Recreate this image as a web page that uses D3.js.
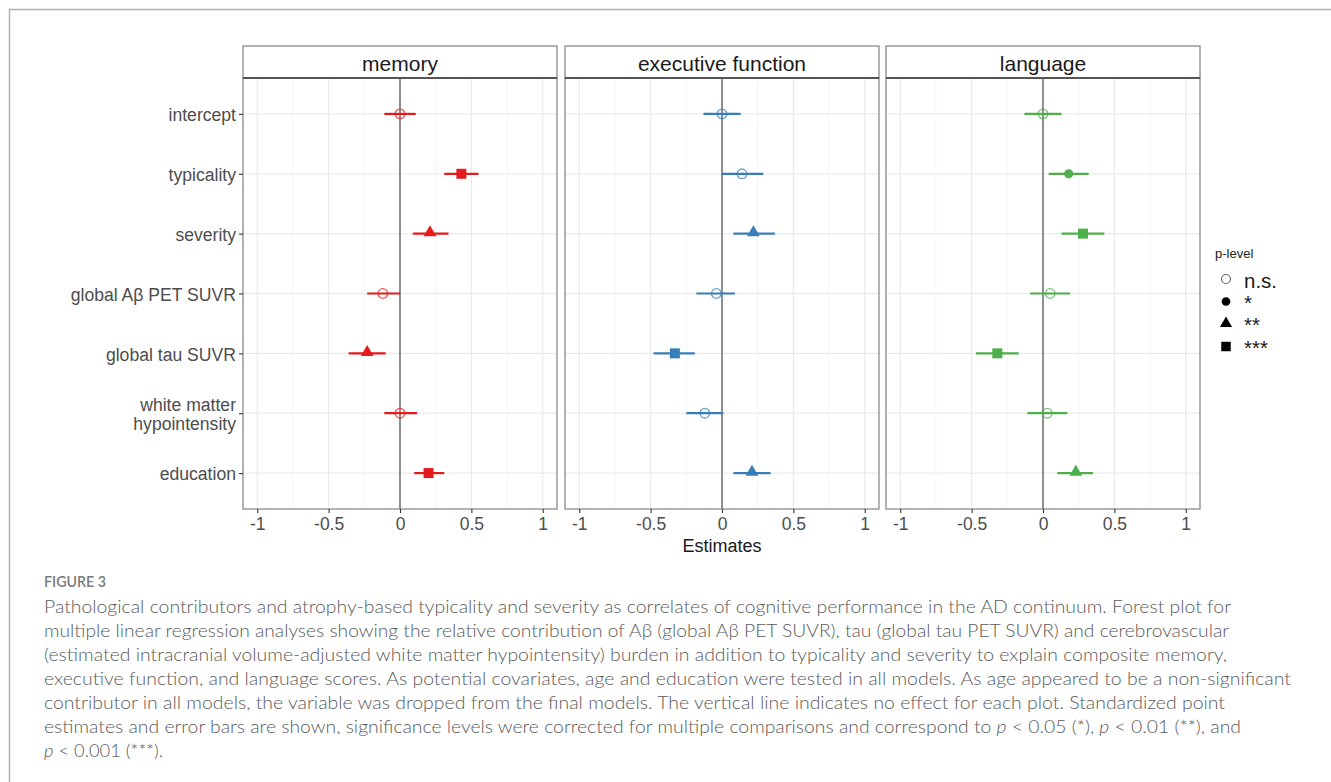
<!DOCTYPE html>
<html><head><meta charset="utf-8">
<script src="https://cdn.jsdelivr.net/npm/d3@7"></script>
<style>html,body{margin:0;padding:0;background:#fff;}svg{display:block;}</style>
</head><body>
<svg id="chart" width="1331" height="782"></svg>
<script>
// ---------- data ----------
const categories = ["intercept","typicality","severity","global Aβ PET SUVR","global tau SUVR","white matter\nhypointensity","education"];
const panels = ["memory","executive function","language"];
const colors = ["#e41a1c","#377eb8","#4daf4a"];
const xTicks = [-1,-0.5,0,0.5,1];
const xTickLabels = ["-1","-0.5","0","0.5","1"];
const sigLevels = ["n.s.","*","**","***"];

const memoryEst = [0.00, 0.43, 0.21, -0.12, -0.23, 0.00, 0.20];
const memoryLo  = [-0.11, 0.31, 0.09, -0.23, -0.36, -0.11, 0.10];
const memoryHi  = [0.11, 0.55, 0.34, 0.00, -0.10, 0.12, 0.31];
const memorySig = ["n.s.","***","**","n.s.","**","n.s.","***"];

const execEst = [0.00, 0.14, 0.22, -0.04, -0.33, -0.12, 0.21];
const execLo  = [-0.13, 0.00, 0.08, -0.18, -0.48, -0.25, 0.08];
const execHi  = [0.13, 0.29, 0.37, 0.09, -0.19, 0.01, 0.34];
const execSig = ["n.s.","n.s.","**","n.s.","***","n.s.","**"];

const langEst = [0.00, 0.18, 0.28, 0.05, -0.32, 0.03, 0.23];
const langLo  = [-0.13, 0.04, 0.13, -0.09, -0.47, -0.11, 0.10];
const langHi  = [0.13, 0.32, 0.43, 0.19, -0.17, 0.17, 0.35];
const langSig = ["n.s.","*","***","n.s.","***","n.s.","**"];

const captionLines = [
 [["Pathological contributors and atrophy-based typicality and severity as correlates of cognitive performance in the AD continuum. Forest plot for",false]],
 [["multiple linear regression analyses showing the relative contribution of Aβ (global Aβ PET SUVR), tau (global tau PET SUVR) and cerebrovascular",false]],
 [["(estimated intracranial volume-adjusted white matter hypointensity) burden in addition to typicality and severity to explain composite memory,",false]],
 [["executive function, and language scores. As potential covariates, age and education were tested in all models. As age appeared to be a non-significant",false]],
 [["contributor in all models, the variable was dropped from the final models. The vertical line indicates no effect for each plot. Standardized point",false]],
 [["estimates and error bars are shown, significance levels were corrected for multiple comparisons and correspond to ",false],["p",true],[" < 0.05 (*), ",false],["p",true],[" < 0.01 (**), and",false]],
 [["p",true],[" < 0.001 (***).",false]]
];
const captionWidths = [1187,1185,1183,1247,1181,1197,119];

// ---------- build ----------
const panelData = [
  {est:memoryEst, lo:memoryLo, hi:memoryHi, sig:memorySig},
  {est:execEst, lo:execLo, hi:execHi, sig:execSig},
  {est:langEst, lo:langLo, hi:langHi, sig:langSig}
];

const svg = d3.select("#chart");
const FONT = "'Liberation Sans', Arial, Helvetica, sans-serif";

// outer frame
svg.append("path").attr("d","M9.5,782 L9.5,9.5 L1331,9.5").attr("fill","none").attr("stroke","#b0b0b0").attr("stroke-width",1.5);

const panelX = [243, 565, 886];
const panelW = 314;
const stripTop = 46, plotTop = 78, plotBottom = 509;

const y = d3.scalePoint().domain(categories).range([plotTop, plotBottom]).padding(0.6);

const symType = {"*": d3.symbolCircle, "**": d3.symbolTriangle, "***": d3.symbolSquare};
const symSize = {"*": 66, "**": 70, "***": 100};

panels.forEach((name, pi) => {
  const x0 = panelX[pi];
  const x = d3.scaleLinear().domain([-1.1, 1.1]).range([x0, x0 + panelW]);
  const g = svg.append("g");
  const d = panelData[pi];
  const col = colors[pi];

  // minor grid
  const minor = [-0.75,-0.25,0.25,0.75];
  g.selectAll(".minor").data(minor).join("line")
    .attr("x1", v=>x(v)).attr("x2", v=>x(v)).attr("y1", plotTop).attr("y2", plotBottom)
    .attr("stroke","#f3f3f3").attr("stroke-width",0.8);
  // major grid
  g.selectAll(".majx").data(xTicks).join("line")
    .attr("x1", v=>x(v)).attr("x2", v=>x(v)).attr("y1", plotTop).attr("y2", plotBottom)
    .attr("stroke","#ebebeb").attr("stroke-width",1.3);
  g.selectAll(".majy").data(categories).join("line")
    .attr("x1", x0).attr("x2", x0+panelW).attr("y1", c=>y(c)).attr("y2", c=>y(c))
    .attr("stroke","#ebebeb").attr("stroke-width",1.3);

  // zero line
  g.append("line").attr("x1", x(0)).attr("x2", x(0)).attr("y1", plotTop).attr("y2", plotBottom)
    .attr("stroke","#5a5a5a").attr("stroke-width",1.3);

  // error bars
  categories.forEach((c, i) => {
    g.append("line").attr("x1", x(d.lo[i])).attr("x2", x(d.hi[i]))
      .attr("y1", y(c)).attr("y2", y(c)).attr("stroke", col).attr("stroke-width", 2.2);
  });
  // points
  categories.forEach((c, i) => {
    const s = d.sig[i];
    if (s === "n.s.") {
      g.append("circle").attr("cx", x(d.est[i])).attr("cy", y(c)).attr("r", 4.8)
        .attr("fill","none").attr("stroke", col).attr("stroke-opacity",0.75).attr("stroke-width",1.3);
    } else {
      g.append("path").attr("d", d3.symbol().type(symType[s]).size(symSize[s])())
        .attr("transform", `translate(${x(d.est[i])},${y(c) + (s==="**"?-1:0)})`)
        .attr("fill", col);
    }
  });

  // panel border
  g.append("rect").attr("x", x0).attr("y", plotTop).attr("width", panelW).attr("height", plotBottom-plotTop)
    .attr("fill","none").attr("stroke","#8a8a8a").attr("stroke-width",1.3);
  // strip
  g.append("rect").attr("x", x0).attr("y", stripTop).attr("width", panelW).attr("height", plotTop-stripTop)
    .attr("fill","#fff").attr("stroke","#8a8a8a").attr("stroke-width",1.3);
  g.append("line").attr("x1", x0).attr("x2", x0+panelW).attr("y1", plotTop).attr("y2", plotTop)
    .attr("stroke","#555").attr("stroke-width",2);
  g.append("text").attr("x", x0+panelW/2).attr("y", (stripTop+plotTop)/2 + 2).attr("dy","0.35em")
    .attr("text-anchor","middle").attr("font-family",FONT).attr("font-size",21).attr("fill","#1a1a1a").text(name);

  // x axis
  const ax = d3.axisBottom(x).tickValues(xTicks).tickFormat((v,i)=>xTickLabels[i]).tickSize(4).tickPadding(5);
  const axg = svg.append("g").attr("transform",`translate(0,${plotBottom})`).call(ax);
  axg.select(".domain").remove();
  axg.selectAll("line").attr("stroke","#333").attr("stroke-width",1.1);
  axg.selectAll("text").attr("font-family",FONT).attr("font-size",17.5).attr("fill","#4d4d4d");

  // y axis on first panel
  if (pi === 0) {
    const ay = d3.axisLeft(y).tickSize(4).tickPadding(3).tickFormat("");
    const ayg = svg.append("g").attr("transform",`translate(${x0},0)`).call(ay);
    ayg.select(".domain").remove();
    ayg.selectAll("line").attr("stroke","#333").attr("stroke-width",1.1);
    categories.forEach(c => {
      const lines = c.split("\n");
      const t = svg.append("text").attr("text-anchor","end").attr("font-family",FONT)
        .attr("font-size",17.6).attr("fill","#4d4d4d");
      const lh = 19.5;
      lines.forEach((ln, k) => {
        t.append("tspan").attr("x", x0-7)
          .attr("y", y(c) + 1 + (k - (lines.length-1)/2)*lh).attr("dy","0.35em").text(ln);
      });
    });
  }
});

// x title
svg.append("text").attr("x", 722).attr("y", 546).attr("dy","0.35em").attr("text-anchor","middle")
  .attr("font-family",FONT).attr("font-size",18).attr("fill","#1a1a1a").text("Estimates");

// legend
const lg = svg.append("g");
lg.append("text").attr("x",1215).attr("y",253).attr("dy","0.35em").attr("font-family",FONT)
  .attr("font-size",13).attr("fill","#1a1a1a").text("p-level");
const legY = [279, 301.5, 323.5, 346.5];
sigLevels.forEach((s, i) => {
  if (s === "n.s.") {
    lg.append("circle").attr("cx",1226).attr("cy",legY[i]).attr("r",4.5)
      .attr("fill","none").attr("stroke","#666").attr("stroke-width",1.2);
  } else {
    lg.append("path").attr("d", d3.symbol().type(symType[s]).size(symSize[s]*0.9)())
      .attr("transform",`translate(1226,${legY[i]})`).attr("fill","#000");
  }
  lg.append("text").attr("x",1244).attr("y",legY[i] + 8.5).attr("font-family",FONT)
    .attr("font-size",20.5).attr("fill","#1a1a1a").text(s);
});

// caption
const CFONT = "Lato, 'Open Sans', 'Noto Sans', sans-serif";
svg.append("text").attr("x",44).attr("y",582).attr("dy","0.35em").attr("font-family",CFONT)
  .attr("font-size",15).attr("font-weight",600).attr("fill","#7a7a7a")
  .attr("textLength",62).attr("lengthAdjust","spacingAndGlyphs").text("FIGURE 3");
captionLines.forEach((segs, i) => {
  const t = svg.append("text").attr("x",44).attr("y",607 + i*24).attr("dy","0.35em")
    .attr("font-family",CFONT).attr("font-size",17.5).attr("font-weight",300).attr("fill","#5a5a5a")
    .attr("textLength",captionWidths[i]).attr("lengthAdjust","spacingAndGlyphs");
  segs.forEach(([txt, it]) => {
    t.append("tspan").attr("font-style", it ? "italic" : "normal").text(txt);
  });
});
</script>
</body></html>
